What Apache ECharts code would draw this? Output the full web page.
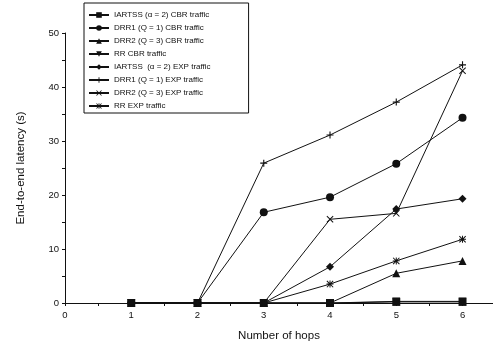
<!DOCTYPE html>
<html>
<head>
<meta charset="utf-8">
<script src="https://cdn.jsdelivr.net/npm/echarts@6/dist/echarts.min.js"></script>
<style>
  html, body { margin: 0; padding: 0; background: #fff; }
  #chart { width: 493px; height: 352px; }
</style>
</head>
<body>
<div id="chart"></div>
<script>
// Number of hops along the path
const hops = [1, 2, 3, 4, 5, 6];
const xTicks = [0, 1, 2, 3, 4, 5, 6];

// End-to-end latency (s) per scheme and traffic type
const iartssCbr = [0, 0, 0, 0, 0.2, 0.2];
const drr1Cbr   = [0, 0, 16.8, 19.6, 25.8, 34.3];
const drr2Cbr   = [0, 0, 0, 0, 5.5, 7.8];
const rrCbr     = [0, 0, 0, 0, 0.3, 0.3];
const iartssExp = [0, 0, 0, 6.7, 17.4, 19.3];
const drr1Exp   = [0, 0, 25.9, 31.1, 37.2, 44.1];
const drr2Exp   = [0, 0, 0, 15.5, 16.6, 43.0];
const rrExp     = [0, 0, 0, 3.5, 7.8, 11.8];

const names = [
  'IARTSS (\u03b1 = 2) CBR traffic',
  'DRR1 (Q = 1) CBR traffic',
  'DRR2 (Q = 3) CBR traffic',
  'RR CBR traffic',
  'IARTSS  (\u03b1 = 2) EXP traffic',
  'DRR1 (Q = 1) EXP traffic',
  'DRR2 (Q = 3) EXP traffic',
  'RR EXP traffic'
];

// Marker shapes
const SYM_DOWN = 'path://M0,0 L10,0 L5,9 Z';
const SYM_PLUS = 'path://M4.2,0 H5.8 V4.2 H10 V5.8 H5.8 V10 H4.2 V5.8 H0 V4.2 H4.2 Z';
const SYM_CROSS = 'path://M0,1 L1,0 L5,4 L9,0 L10,1 L6,5 L10,9 L9,10 L5,6 L1,10 L0,9 L4,5 Z';
const SYM_STAR = 'path://M4.3,0 H5.7 V10 H4.3 Z M0,4.3 H10 V5.7 H0 Z M0,1 L1,0 L10,9 L9,10 Z M9,0 L10,1 L1,10 L0,9 Z';

const seriesDefs = [
  [iartssCbr, 'rect', 8],
  [drr1Cbr, 'circle', 8],
  [drr2Cbr, 'triangle', 8],
  [rrCbr, SYM_DOWN, 8],
  [iartssExp, 'diamond', 8],
  [drr1Exp, SYM_PLUS, 7],
  [drr2Exp, SYM_CROSS, 7],
  [rrExp, SYM_STAR, 7]
];

const FONT = '"Liberation Sans", Arial, sans-serif';
const INK = '#111';

const series = seriesDefs.map((d, i) => ({
  name: names[i],
  type: 'line',
  data: hops.map((h, j) => [h, d[0][j]]),
  symbol: d[1],
  symbolSize: d[2],
  showAllSymbol: true,
  lineStyle: { color: INK, width: 1 },
  itemStyle: { color: INK },
  emphasis: { disabled: true },
  animation: false
}));

const chart = echarts.init(document.getElementById('chart'));
chart.setOption({
  backgroundColor: '#fff',
  animation: false,
  grid: { left: 65, right: 0, top: 33, bottom: 49 },
  legend: {
    orient: 'vertical',
    left: 84,
    top: 3,
    data: names,
    itemWidth: 20,
    itemHeight: 7,
    itemGap: 5,
    padding: [8, 38, 3, 4],
    borderColor: INK,
    borderWidth: 1,
    textStyle: { fontFamily: FONT, fontSize: 8, color: INK },
    selectedMode: false
  },
  xAxis: {
    type: 'value',
    min: 0,
    max: 6.46,
    interval: 1,
    name: 'Number of hops',
    nameLocation: 'middle',
    nameGap: 27,
    nameTextStyle: { fontFamily: FONT, fontSize: 11.5, color: INK },
    axisLine: { lineStyle: { color: INK, width: 1 } },
    axisTick: {
      show: true,
      length: 3,
      lineStyle: { color: INK },
      customValues: [0, 0.5, 1, 1.5, 2, 2.5, 3, 3.5, 4, 4.5, 5, 5.5, 6]
    },
    axisLabel: {
      fontFamily: FONT, fontSize: 9.5, color: INK, margin: 7,
      customValues: xTicks
    },
    splitLine: { show: false }
  },
  yAxis: {
    type: 'value',
    min: 0,
    max: 50,
    interval: 10,
    name: 'End-to-end latency (s)',
    nameLocation: 'middle',
    nameGap: 38,
    nameTextStyle: { fontFamily: FONT, fontSize: 11.5, color: INK },
    axisLine: { show: true, lineStyle: { color: INK, width: 1 } },
    axisTick: { show: true, length: 3, lineStyle: { color: INK } },
    minorTick: { show: true, splitNumber: 2, length: 3, lineStyle: { color: INK } },
    axisLabel: { fontFamily: FONT, fontSize: 9.5, color: INK, margin: 6 },
    splitLine: { show: false }
  },
  series: series
});
</script>
</body>
</html>
